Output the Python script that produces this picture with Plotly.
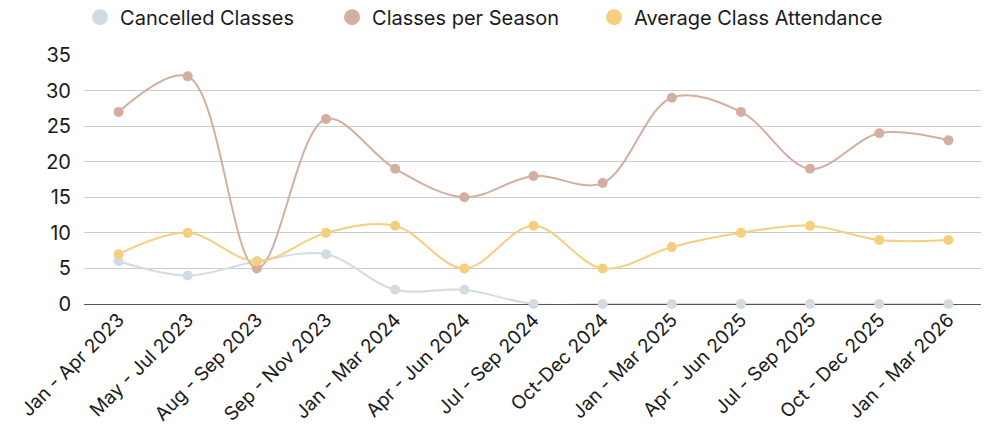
import plotly.graph_objects as go

periods = [
    "Jan - Apr 2023", "May - Jul 2023", "Aug - Sep 2023", "Sep - Nov 2023",
    "Jan - Mar 2024", "Apr - Jun 2024", "Jul - Sep 2024", "Oct-Dec 2024",
    "Jan - Mar 2025", "Apr - Jun 2025", "Jul - Sep 2025", "Oct - Dec 2025",
    "Jan - Mar 2026",
]
cancelled = [6, 4, 6, 7, 2, 2, 0, 0, 0, 0, 0, 0, 0]
classes_per_season = [27, 32, 5, 26, 19, 15, 18, 17, 29, 27, 19, 24, 23]
avg_attendance = [7, 10, 6, 10, 11, 5, 11, 5, 8, 10, 11, 9, 9]

series = [
    ("Cancelled Classes", cancelled, "#d3dbe2"),
    ("Classes per Season", classes_per_season, "#d4ae9e"),
    ("Average Class Attendance", avg_attendance, "#f5cf7d"),
]
legend_ids = ["legend", "legend2", "legend3"]
legend_x = [-0.0044, 0.2759, 0.5673]

fig = go.Figure()
for (name, values, color), lg in zip(series, legend_ids):
    fig.add_trace(
        go.Scatter(
            x=periods,
            y=values,
            name=name,
            mode="lines+markers",
            line=dict(color=color, width=2, shape="spline", smoothing=1),
            marker=dict(color=color, size=10),
            cliponaxis=False,
            showlegend=False,
        )
    )
    # legend entry: plain filled circle
    fig.add_trace(
        go.Scatter(
            x=[None],
            y=[None],
            name=name,
            mode="markers",
            marker=dict(color=color, size=20),
            legend=lg,
        )
    )

legend_style = dict(
    orientation="h",
    xanchor="left",
    y=1.152,
    yanchor="middle",
    font=dict(size=20),
    bgcolor="rgba(0,0,0,0)",
    entrywidth=290,
)

fig.update_layout(
    width=981,
    height=430,
    margin=dict(l=76, r=6, t=47, b=134, autoexpand=False),
    font=dict(family="Inter, Lato, sans-serif", size=19, color="#1a1a1a"),
    plot_bgcolor="white",
    paper_bgcolor="white",
    showlegend=True,
    legend=dict(x=legend_x[0], **legend_style),
    legend2=dict(x=legend_x[1], **legend_style),
    legend3=dict(x=legend_x[2], **legend_style),
    xaxis=dict(
        tickangle=-45,
        tickfont=dict(size=19),
        showgrid=False,
        range=[-0.5, 12.5],
        automargin=False,
    ),
    yaxis=dict(
        range=[0, 35],
        dtick=5,
        tickfont=dict(size=20),
        gridcolor="#cccccc",
        zeroline=True,
        zerolinecolor="#555555",
        zerolinewidth=1,
        ticklabelstandoff=12,
        automargin=False,
    ),
)

fig.write_html("out.html")
